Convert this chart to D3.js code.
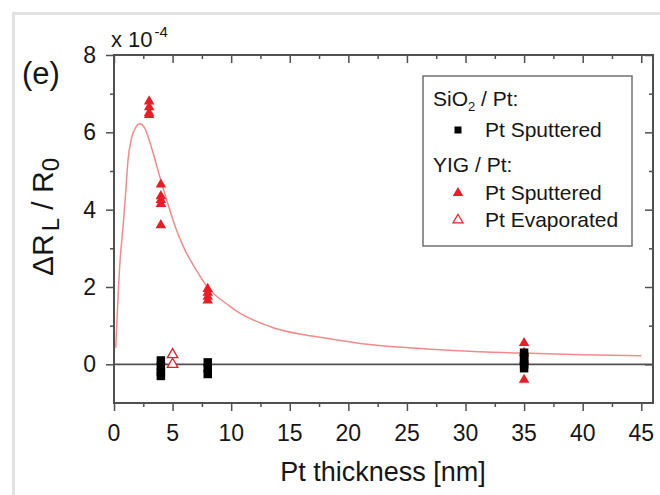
<!DOCTYPE html>
<html>
<head>
<meta charset="utf-8">
<script src="https://cdn.jsdelivr.net/npm/d3@7"></script>
<style>
  html, body { margin: 0; padding: 0; background: #fff; overflow: hidden; }
  svg { display: block; font-family: "Liberation Sans", Arial, sans-serif; }
</style>
</head>
<body>
<svg></svg>
<script>
// Data (values in units of 1e-4)
const sioThickness = [4, 4, 4, 4, 8, 8, 8, 35, 35, 35, 35, 35]
const sioValues = [0.1, -0.05, -0.2, -0.3, 0.05, -0.1, -0.25, 0.3, 0.2, 0.1, 0.0, -0.1]

const yigSputThickness = [3, 3, 3, 3, 4, 4, 4, 4, 4, 8, 8, 8, 8, 35, 35, 35, 35]
const yigSputValues = [6.8, 6.65, 6.5, 6.45, 4.65, 4.35, 4.25, 4.15, 3.6, 1.95, 1.85, 1.75, 1.65, 0.55, 0.3, 0.1, -0.4]

const yigEvapThickness = [5, 5]
const yigEvapValues = [0.25, 0.0]

// fitted curve, points
const fitThickness = [0.15, 0.5, 0.8, 0.95, 1.2, 1.5, 1.9, 2.2, 2.6, 2.95, 3.4, 3.9, 4.5, 5.3, 6.05, 7.0, 7.9, 9.9, 10.5, 13.3, 18.4, 21.8, 25.5, 28.9, 34.8, 40, 45]
const fitValues = [0.43, 2.6, 3.66, 4.25, 5.29, 5.85, 6.15, 6.22, 6.12, 5.85, 5.4, 4.86, 4.25, 3.5, 2.96, 2.45, 2.03, 1.5, 1.37, 0.98, 0.66, 0.51, 0.42, 0.36, 0.29, 0.25, 0.22]

const xMajor = [0, 5, 10, 15, 20, 25, 30, 35, 40, 45]
const xMinor = [2.5, 7.5, 12.5, 17.5, 22.5, 27.5, 32.5, 37.5, 42.5]
const yMajor = [0, 2, 4, 6, 8]
const yMinor = [1, 3, 5, 7]

const legendItems = ["Pt Sputtered", "Pt Sputtered", "Pt Evaporated"]

// Svg size
const width = 660
const height = 495

const svg = d3.select("svg")
    .attr("width", width)
    .attr("height", height)
    .attr("viewBox", `0 0 ${width} ${height}`)

const margin = { top: 55, right: 7, bottom: 92, left: 114 }
const innerWidth = width - margin.left - margin.right
const innerHeight = height - margin.top - margin.bottom

const red = "#ec1c24"
const fitRed = "#f48a8a"
const axisColor = "#505050"
const textColor = "#161616"

// page frame (light grey border of the figure panel)
svg.append("line").attr("x1", 13.5).attr("x2", 13.5).attr("y1", 12).attr("y2", height)
    .attr("stroke", "#e2e2e2").attr("stroke-width", 3)
svg.append("line").attr("x1", 12).attr("x2", width).attr("y1", 13.5).attr("y2", 13.5)
    .attr("stroke", "#e2e2e2").attr("stroke-width", 3)

const xScale = d3.scaleLinear().domain([0, 46]).range([margin.left, margin.left + innerWidth])
const yScale = d3.scaleLinear().domain([-1, 8]).range([margin.top + innerHeight, margin.top])

const g = svg.append("g")

// Axes: ticks from d3 axes, labels drawn separately below
const tickAxis = (sel) => {
    sel.selectAll(".domain").remove()
    sel.selectAll(".tick text").remove()
    sel.selectAll(".tick line").attr("stroke", axisColor).attr("stroke-width", 1.5)
}

const bottomY = yScale(-1)
const topY = yScale(8)
const leftX = xScale(0)
const rightX = xScale(46)

g.append("g").attr("transform", `translate(0, ${bottomY})`)
    .call(d3.axisBottom(xScale).tickValues(xMajor).tickSize(8))
    .call(tickAxis)
g.append("g").attr("transform", `translate(0, ${bottomY})`)
    .call(d3.axisBottom(xScale).tickValues(xMinor).tickSize(4))
    .call(tickAxis)
g.append("g").attr("transform", `translate(0, ${topY})`)
    .call(d3.axisTop(xScale).tickValues(xMajor).tickSize(-8))
    .call(tickAxis)
g.append("g").attr("transform", `translate(0, ${topY})`)
    .call(d3.axisTop(xScale).tickValues(xMinor).tickSize(-4))
    .call(tickAxis)

g.append("g").attr("transform", `translate(${leftX}, 0)`)
    .call(d3.axisLeft(yScale).tickValues(yMajor).tickSize(8))
    .call(tickAxis)
g.append("g").attr("transform", `translate(${leftX}, 0)`)
    .call(d3.axisLeft(yScale).tickValues(yMinor).tickSize(4))
    .call(tickAxis)
g.append("g").attr("transform", `translate(${rightX}, 0)`)
    .call(d3.axisRight(yScale).tickValues(yMajor).tickSize(-8))
    .call(tickAxis)
g.append("g").attr("transform", `translate(${rightX}, 0)`)
    .call(d3.axisRight(yScale).tickValues(yMinor).tickSize(-4))
    .call(tickAxis)

// tick labels
svg.selectAll(".xlab").data(xMajor).enter().append("text")
    .attr("class", "xlab")
    .attr("x", d => xScale(d))
    .attr("y", bottomY + 38)
    .attr("text-anchor", "middle")
    .attr("font-size", 23)
    .attr("fill", textColor)
    .text(d => d)

svg.selectAll(".ylab").data(yMajor).enter().append("text")
    .attr("class", "ylab")
    .attr("x", leftX - 18)
    .attr("y", d => yScale(d) + 8)
    .attr("text-anchor", "end")
    .attr("font-size", 23)
    .attr("fill", textColor)
    .text(d => d)

// frame
g.append("rect")
    .attr("x", leftX).attr("y", topY)
    .attr("width", innerWidth).attr("height", innerHeight)
    .attr("fill", "none")
    .attr("stroke", axisColor)
    .attr("stroke-width", 2)

// zero line
g.append("line")
    .attr("x1", leftX).attr("x2", rightX)
    .attr("y1", yScale(0)).attr("y2", yScale(0))
    .attr("stroke", axisColor)
    .attr("stroke-width", 1.6)

// fit curve
const fitData = fitThickness.map((t, i) => ({ t, v: fitValues[i] }))
const lineGenerator = d3.line()
    .x(d => xScale(d.t))
    .y(d => yScale(d.v))
    .curve(d3.curveMonotoneX)

g.append("path")
    .attr("d", lineGenerator(fitData))
    .attr("fill", "none")
    .attr("stroke", fitRed)
    .attr("stroke-width", 1.5)

const tri = d3.symbol(d3.symbolTriangle, 48)
const sq = d3.symbol(d3.symbolSquare, 72)

// YIG / Pt sputtered
g.selectAll(".yigSput").data(yigSputThickness.map((t, i) => ({ t, v: yigSputValues[i] })))
    .enter().append("path")
    .attr("d", tri)
    .attr("transform", d => `translate(${xScale(d.t)}, ${yScale(d.v)})`)
    .attr("fill", red)

// YIG / Pt evaporated
g.selectAll(".yigEvap").data(yigEvapThickness.map((t, i) => ({ t, v: yigEvapValues[i] })))
    .enter().append("path")
    .attr("d", tri)
    .attr("transform", d => `translate(${xScale(d.t)}, ${yScale(d.v)})`)
    .attr("fill", "#fff")
    .attr("stroke", red)
    .attr("stroke-width", 1.3)

// SiO2 / Pt sputtered
g.selectAll(".sio").data(sioThickness.map((t, i) => ({ t, v: sioValues[i] })))
    .enter().append("path")
    .attr("d", sq)
    .attr("transform", d => `translate(${xScale(d.t)}, ${yScale(d.v)})`)
    .attr("fill", "#000")

// Legend
const lg = svg.append("g").attr("transform", "translate(423, 76)")
lg.append("rect")
    .attr("width", 209).attr("height", 170)
    .attr("fill", "#fff")
    .attr("stroke", "#707070")
    .attr("stroke-width", 1.5)

const h1 = lg.append("text").attr("x", 10).attr("y", 30).attr("font-size", 21).attr("fill", textColor)
h1.append("tspan").text("SiO")
h1.append("tspan").attr("font-size", 13).attr("dy", 5).text("2")
h1.append("tspan").attr("dy", -5).text(" / Pt:")

lg.append("text").attr("x", 10).attr("y", 96).attr("font-size", 21).attr("fill", textColor)
    .text("YIG / Pt:")

const rowsY = [61, 124, 151]
lg.selectAll(".ltext").data(legendItems).enter().append("text")
    .attr("x", 62)
    .attr("y", (d, i) => rowsY[i])
    .attr("font-size", 21)
    .attr("fill", textColor)
    .text(d => d)

lg.append("path").attr("d", d3.symbol(d3.symbolSquare, 49))
    .attr("transform", `translate(35, ${rowsY[0] - 7})`).attr("fill", "#000")
lg.append("path").attr("d", d3.symbol(d3.symbolTriangle, 48))
    .attr("transform", `translate(35, ${rowsY[1] - 7})`).attr("fill", red)
lg.append("path").attr("d", d3.symbol(d3.symbolTriangle, 44))
    .attr("transform", `translate(35, ${rowsY[2] - 7})`)
    .attr("fill", "#fff").attr("stroke", red).attr("stroke-width", 1.2)

// Panel label and multiplier
svg.append("text").attr("x", 22).attr("y", 84).attr("font-size", 31).attr("fill", textColor).text("(e)")

const mult = svg.append("text").attr("x", 111).attr("y", 47).attr("font-size", 22).attr("fill", textColor)
mult.append("tspan").text("x 10")
mult.append("tspan").attr("font-size", 15).attr("dy", -10).attr("dx", 2).text("-4")

// Axis titles
svg.append("text")
    .attr("x", 383).attr("y", 481)
    .attr("text-anchor", "middle")
    .attr("font-size", 27)
    .attr("fill", textColor)
    .text("Pt thickness [nm]")

const yl = svg.append("text")
    .attr("transform", "translate(53, 217) rotate(-90)")
    .attr("text-anchor", "middle")
    .attr("font-size", 30)
    .attr("fill", textColor)
yl.append("tspan").text("\u0394R")
yl.append("tspan").attr("font-size", 24).attr("dy", 6).attr("dx", 3).text("L")
yl.append("tspan").attr("dy", -6).text(" / R")
yl.append("tspan").attr("font-size", 24).attr("dy", 6).text("0")
</script>
</body>
</html>
